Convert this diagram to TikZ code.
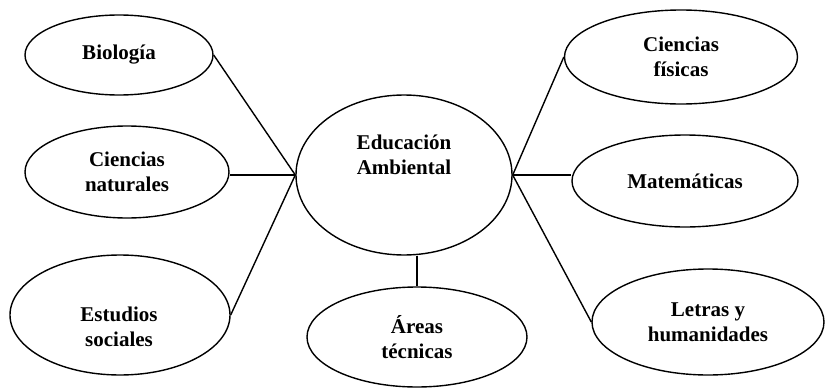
\documentclass[tikz,border=0pt]{standalone}
\usepackage{fontspec}
\setmainfont{Liberation Serif}
\usetikzlibrary{shapes.geometric}
\begin{document}
\begin{tikzpicture}[x=1pt,y=-1pt,
  oval/.style={draw, line width=1.4pt, ellipse, inner sep=0pt, align=center,
    font=\fontsize{21}{25}\selectfont\bfseries},
  txt/.style={inner sep=0pt, align=center, font=\fontsize{21}{25}\selectfont\bfseries},
  link/.style={line width=1.4pt}]
\useasboundingbox (0,0) rectangle (825,388);
% left
\node[oval, minimum width=188pt, minimum height=80pt] (bio) at (119,55) {Biología};
\node[oval, minimum width=204pt, minimum height=92pt] (cn) at (127,172) {Ciencias\\naturales};
\node[oval, minimum width=220pt, minimum height=120pt] (es) at (120,315) {};
\node[txt] (est) at (119,327) {Estudios\\sociales};
% centre
\node[oval, minimum width=216pt, minimum height=160pt] (ea) at (404,175) {};
\node[txt] (eat) at (404,155) {Educación\\Ambiental};
\node[oval, minimum width=220pt, minimum height=100pt] (at) at (417,337) {Áreas\\técnicas};
% right
\node[oval, minimum width=233pt, minimum height=94pt] (cf) at (681,57) {Ciencias\\físicas};
\node[oval, minimum width=226pt, minimum height=92pt] (mat) at (685,181) {Matemáticas};
\node[oval, minimum width=232pt, minimum height=106pt] (lh) at (708,322) {Letras y\\humanidades};
% connectors
\draw[link] (bio.east) -- (ea.west);
\draw[link] (cn.east |- ea.west) -- (ea.west);
\draw[link] (es.east) -- (ea.west);
\draw[link] (ea.east) -- (cf.west);
\draw[link] (ea.east) -- (ea.east -| mat.west);
\draw[link] (ea.east) -- (lh.west);
\draw[link] (ea.south -| at.north) -- (at.north);
\end{tikzpicture}
\end{document}
